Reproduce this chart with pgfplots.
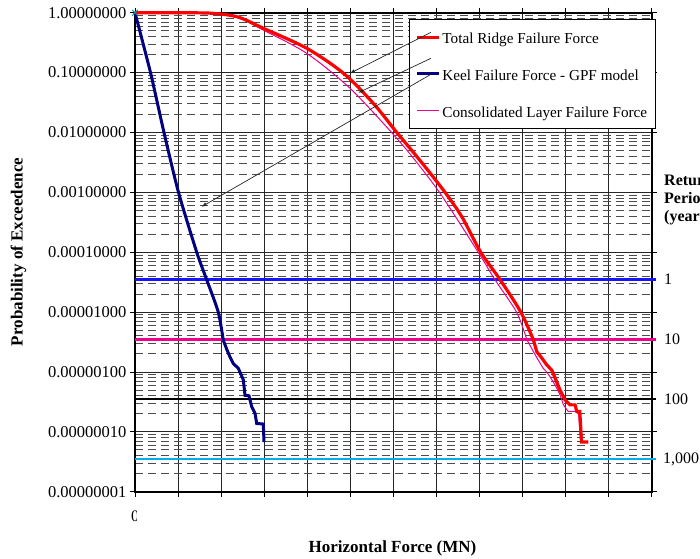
\documentclass[border=0pt]{standalone}
\usepackage{pgfplots}
\pgfplotsset{compat=1.18}
\usepackage{fontspec}
\setmainfont{Liberation Serif}
\usetikzlibrary{arrows.meta}
\definecolor{navyc}{RGB}{0,0,128}
\definecolor{refblue}{RGB}{20,20,255}
\definecolor{tealx}{RGB}{0,140,140}
\begin{document}
\begin{tikzpicture}
\path[use as bounding box] (0pt,0pt) rectangle (700pt,558pt);
\begin{axis}[
  at={(135pt,66.3pt)}, anchor=south west,
  scale only axis, width=516.7pt, height=479pt,
  xmin=0, xmax=12, ymode=log, ymin=1e-8, ymax=1,
  xtick={0,1,2,3,4,5,6,7,8,9,10,11,12}, xticklabels={},
  ytick={1e-8,1e-7,1e-6,1e-5,1e-4,1e-3,1e-2,1e-1,1},
  yticklabels={0.00000001,0.00000010,0.00000100,0.00001000,0.00010000,0.00100000,0.01000000,0.10000000,1.00000000},
  minor ytick={2e-8,3e-8,4e-8,5e-8,6e-8,7e-8,8e-8,9e-8,
               2e-7,3e-7,4e-7,5e-7,6e-7,7e-7,8e-7,9e-7,
               2e-6,3e-6,4e-6,5e-6,6e-6,7e-6,8e-6,9e-6,
               2e-5,3e-5,4e-5,5e-5,6e-5,7e-5,8e-5,9e-5,
               2e-4,3e-4,4e-4,5e-4,6e-4,7e-4,8e-4,9e-4,
               2e-3,3e-3,4e-3,5e-3,6e-3,7e-3,8e-3,9e-3,
               2e-2,3e-2,4e-2,5e-2,6e-2,7e-2,8e-2,9e-2,
               2e-1,3e-1,4e-1,5e-1,6e-1,7e-1,8e-1,9e-1},
  xmajorgrids, ymajorgrids, yminorgrids,
  major grid style={black!85, line width=0.9pt},
  minor grid style={black!70, line width=0.9pt, dash pattern=on 8pt off 5pt},
  tick align=outside, major tick length=5pt, minor tick length=0pt,
  tick style={black, line width=0.9pt},
  axis line style={line width=1.8pt},
  yticklabel style={font=\fontsize{16.5}{19}\selectfont},
  clip=false,
  xlabel={Horizontal Force (MN)},
  ylabel={Probability of Exceedence},
  xlabel style={at={(rel axis cs:0.4983,-0.119)}, anchor=center, font=\fontsize{17}{20}\selectfont\bfseries},
  ylabel style={at={(rel axis cs:-0.2255,0.501)}, anchor=center, font=\fontsize{17}{20}\selectfont\bfseries},
  reverse legend,
  legend cell align=left,
  legend image code/.code={\draw[#1] (0pt,0pt) -- (22pt,0pt);},
  legend style={at={(rel axis cs:0.530,0.987)}, anchor=north west, draw=black, fill=white,
     line width=0.8pt, font=\fontsize{15.2}{18}\selectfont,
     inner xsep=6pt, inner ysep=8.3pt, row sep=17.7pt,
     nodes={inner sep=2pt, text height=14pt, text depth=1pt}},
]
% return-period reference lines
\addplot[refblue, line width=2.3pt, forget plot] coordinates {(0,3.5e-5) (12.1,3.5e-5)};
\addplot[magenta, line width=2.3pt, forget plot] coordinates {(0,3.5e-6) (12.1,3.5e-6)};
\addplot[black, line width=2.3pt, forget plot] coordinates {(0,3.5e-7) (12.1,3.5e-7)};
\addplot[cyan, line width=2.3pt, forget plot] coordinates {(0,3.5e-8) (12.1,3.5e-8)};
% Consolidated layer
\addplot[magenta, line width=1pt, smooth, tension=0.5] coordinates {
(0,1) (1.0,0.998) (1.81,0.97) (2.4,0.822) (2.98,0.513) (3.99,0.209) (4.99,0.055)
(5.96,0.01) (6.31,0.00513) (7.07,0.001) (7.97,1e-4) (8.36,3.47e-5)
(8.86,1e-5) (9.10,3.47e-6)};
\addplot[magenta, line width=1pt, forget plot] coordinates {
(9.10,3.47e-6) (9.25,2.2e-6) (9.36,1.6e-6) (9.48,1.15e-6) (9.56,1.0e-6) (9.64,8.3e-7) (9.76,6.0e-7) (9.87,4.17e-7)
(9.95,2.82e-7) (10.06,2.19e-7) (10.26,2.19e-7) (10.30,2.04e-7) (10.35,6.76e-8) (10.45,6.76e-8)};
% Keel
\addplot[navyc, line width=3pt, smooth, tension=0.4] coordinates {
(0,1) (0.36,0.1) (0.673,0.01) (1.01,1e-3) (1.433,1e-4) (1.665,3.47e-5)
(1.934,1e-5) (2.05,3.4e-6)};
\addplot[navyc, line width=3pt, forget plot] coordinates {
(2.05,3.4e-6) (2.13,2.4e-6) (2.206,1.78e-6)
(2.283,1.38e-6) (2.40,1.15e-6) (2.515,7.41e-7) (2.555,4.07e-7) (2.647,4.0e-7)
(2.71,2.63e-7) (2.787,2.04e-7) (2.826,1.38e-7) (2.98,1.35e-7) (2.996,6.76e-8)};
% Total ridge
\addplot[red, line width=3.2pt, smooth, tension=0.5] coordinates {
(0,1) (1.0,0.998) (1.81,0.977) (2.4,0.843) (2.98,0.5495) (3.99,0.2541)
(4.84,0.0977) (5.53,0.0309) (6.08,0.01) (6.6,0.00355) (7.2,0.001)
(7.6,3.8e-4) (8.03,1e-4) (8.48,3.47e-5) (8.96,1e-5) (9.25,3.47e-6)};
\addplot[red, line width=3.2pt, forget plot] coordinates {
(9.25,3.47e-6) (9.33,2.19e-6) (9.45,1.7e-6) (9.56,1.32e-6) (9.68,1.07e-6) (9.78,7.2e-7) (9.87,5.0e-7)
(9.99,3.39e-7) (10.10,2.82e-7) (10.22,2.82e-7) (10.26,2.19e-7) (10.33,2.19e-7)
(10.37,6.76e-8) (10.53,6.76e-8)};
\addplot[tealx, only marks, mark=x, mark size=4pt, line width=1pt, forget plot] coordinates {(0,1)};
\legend{Consolidated Layer Failure Force,Keel Failure Force - GPF model,Total Ridge Failure Force}
\node[anchor=west, inner sep=0pt, font=\fontsize{16}{19}\selectfont] at (axis cs:12.285,3.5e-5) {1};
\node[anchor=west, inner sep=0pt, font=\fontsize{16}{19}\selectfont] at (axis cs:12.285,3.5e-6) {10};
\node[anchor=west, inner sep=0pt, font=\fontsize{16}{19}\selectfont] at (axis cs:12.285,3.5e-7) {100};
\node[anchor=west, inner sep=0pt, font=\fontsize{16}{19}\selectfont] at (axis cs:12.26,3.5e-8) {1,000};
\end{axis}
% annotation arrows
\draw[black!85, line width=0.7pt, -{Latex[length=5pt,width=4pt]}] (431pt,525.7pt) -- (350pt,484.7pt);
\draw[black!85, line width=0.7pt, -{Latex[length=5pt,width=4pt]}] (431pt,499.7pt) -- (358.3pt,465.3pt);
\draw[black!85, line width=0.7pt, -{Latex[length=5pt,width=4pt]}] (431pt,483.7pt) -- (201.7pt,351.3pt);
% right-hand title (clipped by the page, as in the original)
\node[anchor=base west, inner sep=0pt, font=\fontsize{16}{19}\selectfont\bfseries] at (664pt,373pt) {Return};
\node[anchor=base west, inner sep=0pt, font=\fontsize{16}{19}\selectfont\bfseries] at (664pt,355pt) {Period};
\node[anchor=base west, inner sep=0pt, font=\fontsize{16}{19}\selectfont\bfseries] at (664pt,337pt) {(years)};
% clipped x tick label
\begin{scope}
\clip (125pt,30pt) rectangle (136pt,55pt);
\node[inner sep=0pt, font=\fontsize{16}{19}\selectfont] at (135pt,41.3pt) {0};
\end{scope}
\end{tikzpicture}
\end{document}
